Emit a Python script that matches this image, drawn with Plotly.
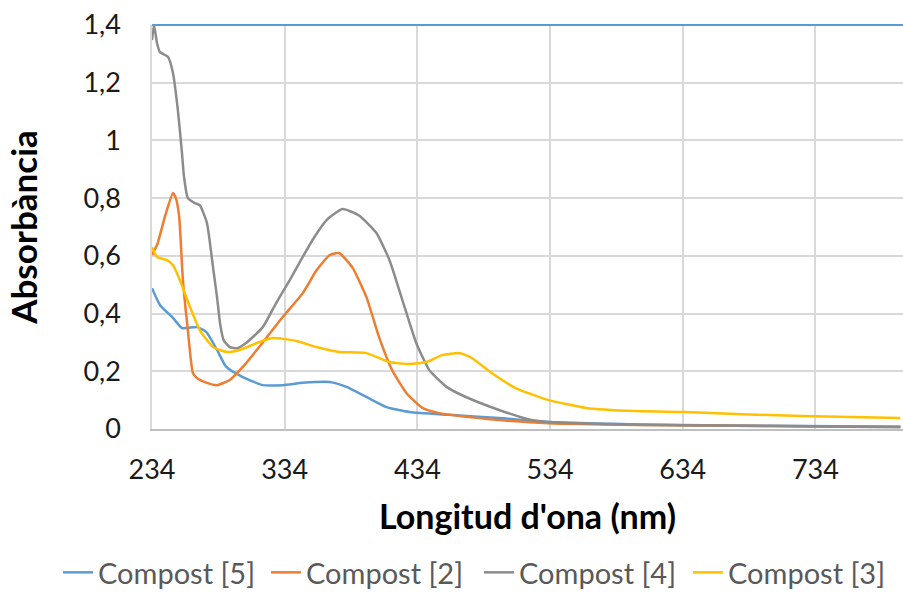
import plotly.graph_objects as go

# Compost [5] (blue)
x5 = [234, 240, 249.8, 256.6, 267.8, 275, 283, 290, 302.4, 317.5, 332.5, 347.5, 367.8, 380.6,
      395.6, 410.7, 428, 458, 495.6, 533, 600, 700, 798]
y5 = [0.488, 0.43, 0.385, 0.35, 0.353, 0.336, 0.274, 0.215, 0.18, 0.152, 0.152, 0.16, 0.163, 0.146,
      0.111, 0.076, 0.059, 0.049, 0.038, 0.024, 0.016, 0.011, 0.008]

# Compost [2] (orange)
x2 = [234, 238, 244, 249.8, 252, 254.5, 257.3, 261, 264.8, 267.8, 275.4, 283, 292.6, 302.4, 317.5,
      332.5, 347.5, 358, 368, 375, 385, 395.6, 405, 415, 425.7, 437.8, 450.5, 470.8, 495.6, 533,
      600, 700, 798]
y2 = [0.603, 0.64, 0.74, 0.818, 0.80, 0.735, 0.516, 0.343, 0.194, 0.177, 0.16, 0.152, 0.17, 0.215,
      0.30, 0.388, 0.47, 0.55, 0.603, 0.61, 0.56, 0.457, 0.32, 0.204, 0.125, 0.073, 0.055, 0.042,
      0.031, 0.02, 0.014, 0.01, 0.008]

# Compost [4] (gray)
x4 = [234, 235.5, 237.8, 240, 246, 249.8, 253.5, 256.6, 258, 261, 266.3, 270, 275.4, 280, 283,
      285.5, 288, 292.6, 298, 305.4, 317.5, 328, 337.8, 345, 355, 365.6, 377.6, 390, 403, 413,
      422.7, 433, 443, 456, 471, 495.6, 520, 533, 600, 700, 798]
y4 = [1.348, 1.4, 1.337, 1.306, 1.29, 1.234, 1.105, 0.956, 0.88, 0.80, 0.783, 0.776, 0.714, 0.56,
      0.457, 0.36, 0.308, 0.284, 0.28, 0.30, 0.353, 0.44, 0.516, 0.575, 0.655, 0.724, 0.762, 0.74,
      0.68, 0.585, 0.447, 0.30, 0.204, 0.146, 0.11, 0.066, 0.031, 0.024, 0.015, 0.01, 0.006]

# Compost [3] (yellow)
x3 = [234, 237.8, 245.3, 249.8, 255, 262.6, 270, 280, 290.4, 300, 313, 325, 343, 358, 375, 395.6,
      413, 428, 440.8, 452.8, 465.6, 475, 490, 508, 533, 561, 598.7, 636, 674, 723.5, 761, 798]
y3 = [0.63, 0.596, 0.585, 0.568, 0.516, 0.423, 0.343, 0.284, 0.267, 0.274, 0.298, 0.315, 0.305,
      0.284, 0.267, 0.263, 0.232, 0.225, 0.232, 0.256, 0.263, 0.246, 0.194, 0.142, 0.10, 0.073,
      0.062, 0.059, 0.052, 0.045, 0.042, 0.038]

x_ticks = [234, 334, 434, 534, 634, 734]
y_ticks = [0, 0.2, 0.4, 0.6, 0.8, 1.0, 1.2, 1.4]

series = [
    ("Compost [5]", x5, y5, "#5B9BD5"),
    ("Compost [2]", x2, y2, "#ED7D31"),
    ("Compost [4]", x4, y4, "#8C8C8C"),
    ("Compost [3]", x3, y3, "#FFC000"),
]
legend_ids = ["legend", "legend2", "legend3", "legend4"]
legend_x = [58 / 903, 266 / 903, 479 / 903, 688 / 903]

fig = go.Figure()
for (name, xs, ys, col), lid in zip(series, legend_ids):
    fig.add_trace(go.Scatter(x=xs, y=ys, name=name, mode="lines", legend=lid,
                             line=dict(color=col, width=2.5, shape="spline", smoothing=0.5),
                             cliponaxis=True))

font = "Lato, Open Sans, sans-serif"
legends = {}
for lid, lx in zip(legend_ids, legend_x):
    legends[lid] = dict(orientation="h", xref="container", x=lx, xanchor="left",
                        yref="container", y=0.0, yanchor="bottom", bgcolor="rgba(0,0,0,0)",
                        font=dict(size=29, color="#595959"), itemwidth=30)

fig.update_layout(
    width=903, height=598,
    margin=dict(l=152, r=0, t=25, b=169),
    paper_bgcolor="white", plot_bgcolor="white",
    separators=", ",
    font=dict(family=font, color="#404040"),
    showlegend=True,
    xaxis=dict(range=[234, 800], tickvals=x_ticks, ticktext=[str(v) for v in x_ticks],
               showgrid=True, gridcolor="#D9D9D9", gridwidth=1.5, zeroline=False,
               showline=True, linecolor="#BFBFBF", linewidth=1.5, ticks="", automargin=True,
               tickfont=dict(size=27, color="#1a1a1a"), ticklabelstandoff=16,
               title=dict(text="Longitud d'ona (nm)",
                          font=dict(size=34, color="#000000", family=font, weight="bold"),
                          standoff=21)),
    yaxis=dict(range=[0, 1.4], tickvals=y_ticks, showgrid=True, gridcolor="#D9D9D9", gridwidth=1.5,
               zeroline=False, showline=True, linecolor="#D9D9D9", linewidth=1.5, ticks="",
               automargin=False,
               tickfont=dict(size=27, color="#1a1a1a"), ticklabelstandoff=24,
               title=dict(text="Absorbància",
                          font=dict(size=35, color="#000000", family=font, weight="bold"),
                          standoff=35)),
    shapes=[dict(type="line", xref="x domain", yref="y domain", x0=0, x1=1, y0=1, y1=1,
                 line=dict(color="#5B9BD5", width=2), layer="above")],
    **legends,
)
fig.write_html("out.html")
